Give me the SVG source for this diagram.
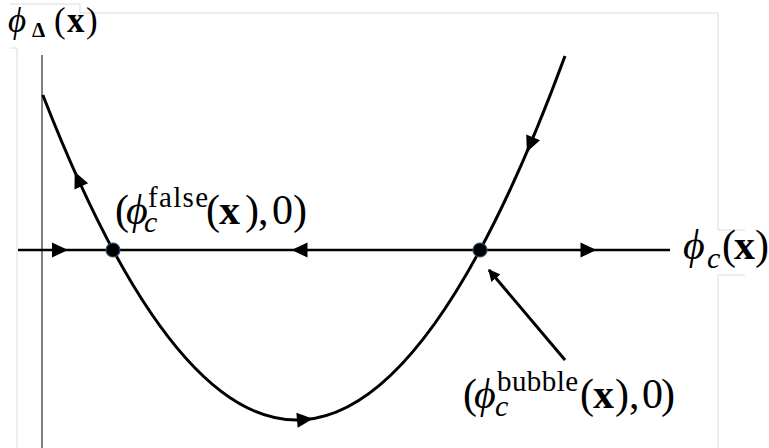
<svg xmlns="http://www.w3.org/2000/svg" width="769" height="448" viewBox="0 0 769 448">
<style>
.ghost{fill:none;stroke:#dcdcdc;stroke-width:1}
.ln{fill:none;stroke:#000;stroke-width:3;stroke-linecap:butt}
.ax{fill:none;stroke:#000;stroke-width:2.5}
.vax{fill:none;stroke:#555;stroke-width:1.5}
.t{font-family:"Liberation Serif","DejaVu Serif",serif;font-size:42px;fill:#000}
.it{font-style:italic}
.b{font-weight:bold}
.sup{font-size:29px}
.sub{font-size:30px;font-style:italic}
.dot{fill:#000;stroke:#2a4a7a;stroke-width:1.2}
</style>
<defs>
<path id="ah" d="M8,0 L-8,-7.5 L-8,7.5 Z" fill="#000"/>
<marker id="pm" viewBox="0 0 10 10" refX="9" refY="5" markerWidth="4" markerHeight="4" orient="auto" markerUnits="strokeWidth">
<path d="M0,0 L10,5 L0,10 Z" fill="#000"/>
</marker>
</defs>
<rect width="769" height="448" fill="#fff"/>
<g id="frame">
<polyline class="ghost" points="10,4 80,4 80,13 718,13 718,230 745,230"/>
<polyline class="ghost" points="745,275 718,275 718,448"/>
<polyline class="ghost" points="10,48 17,48 17,448"/>
</g>
<g id="connectors">
<line class="vax" x1="42" y1="55" x2="42" y2="448"/>
<line class="ax" x1="18" y1="250" x2="670" y2="250"/>
<path class="ln" d="M42.8,95 Q303.9,764 565,56"/>
<use href="#ah" transform="translate(60,250)"/>
<use href="#ah" transform="translate(299.5,250) rotate(180)"/>
<use href="#ah" transform="translate(588.5,250)"/>
<use href="#ah" transform="translate(78,179) rotate(245.6)"/>
<use href="#ah" transform="translate(305,419.5) rotate(-5)"/>
<use href="#ah" transform="translate(530,144.7) rotate(113)"/>
<line class="ln" x1="565" y1="360" x2="489" y2="270" marker-end="url(#pm)"/>
</g>
<g id="false-point">
<circle class="dot" cx="113" cy="250" r="7"/>
<text class="t" y="224"><tspan x="115">(</tspan><tspan x="126" class="it">ϕ</tspan><tspan x="148" y="207" class="sup" textLength="60">false</tspan><tspan x="144" y="232" class="sub">c</tspan><tspan x="206" y="224">(</tspan><tspan x="219" class="b">x</tspan><tspan x="245">)</tspan><tspan x="258">,</tspan><tspan x="272">0</tspan><tspan x="293">)</tspan></text>
</g>
<g id="bubble-point">
<circle class="dot" cx="480" cy="250" r="7"/>
<text class="t" y="408"><tspan x="463">(</tspan><tspan x="474" class="it">ϕ</tspan><tspan x="497" y="391" class="sup" textLength="81">bubble</tspan><tspan x="495" y="416" class="sub">c</tspan><tspan x="580" y="408">(</tspan><tspan x="593" class="b">x</tspan><tspan x="615">)</tspan><tspan x="629">,</tspan><tspan x="642">0</tspan><tspan x="661">)</tspan></text>
</g>
<g id="x-axis-label">
<text class="t" y="259"><tspan x="683" class="it">ϕ</tspan><tspan x="707" y="268" class="sub">c</tspan><tspan x="722" y="259">(</tspan><tspan x="734" class="b">x</tspan><tspan x="755">)</tspan></text>
</g>
<g id="y-axis-label">
<text class="t" y="32" style="font-size:35px"><tspan x="8" class="it">ϕ</tspan><tspan x="32" y="37" class="b" style="font-size:21px">Δ</tspan><tspan x="54" y="32">(</tspan><tspan x="67" class="b">x</tspan><tspan x="86">)</tspan></text>
</g>
</svg>
